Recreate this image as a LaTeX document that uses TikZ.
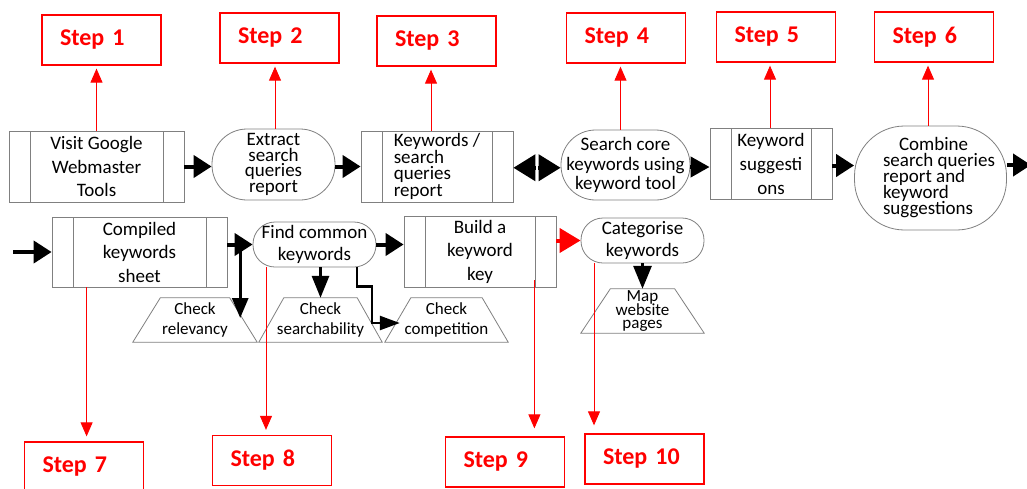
\documentclass[tikz,border=0pt]{standalone}
\usepackage{fontspec}
\setmainfont{Carlito}
\usetikzlibrary{arrows.meta}
\definecolor{bgray}{HTML}{808080}
\definecolor{sred}{HTML}{FF0000}
\lineskiplimit=-100pt
\tikzset{
  boxline/.style={draw=bgray, line width=0.8pt},
  proc/.style={boxline, rectangle, inner sep=0pt, align=center,
    font=\fontsize{19}{23.5}\selectfont,
    path picture={\draw[bgray, line width=0.8pt]
      ([xshift=21pt]path picture bounding box.north west) -- ([xshift=21pt]path picture bounding box.south west)
      ([xshift=-21pt]path picture bounding box.north east) -- ([xshift=-21pt]path picture bounding box.south east);}},
  term/.style={boxline, rectangle, rounded corners=#1, inner sep=0pt, align=center, font=\fontsize{19}{22}\selectfont},
  traptext/.style={inner sep=0pt, align=center, font=\fontsize{17}{20}\selectfont},
  stepbox/.style={draw=sred, line width=1.3pt, minimum width=119pt, minimum height=50pt,
    inner xsep=18pt, inner ysep=0pt, text width=83pt, align=left, text=sred,
    font=\fontsize{24}{28}\selectfont\bfseries},
  redarr/.style={draw=sred, line width=0.9pt, -{Triangle[length=14pt,width=12pt]}},
  bigarr/.style={draw=black, line width=4pt, -{Triangle[length=18pt,width=22pt]}},
  midarr/.style={draw=black, line width=3pt, -{Triangle[length=22pt,width=17pt]}},
  elbarr/.style={draw=black, line width=2.5pt, -{Triangle[length=20pt,width=14pt]}},
  redbig/.style={draw=sred, line width=4pt, -{Triangle[length=21pt,width=24pt]}},
}
\newcommand\trapnode[8][]{%
  \node[traptext, #1, minimum width=#5pt, minimum height=#7pt] (#2) at (#3,#4) {#8};
  \draw[boxline] (#2.south west) -- (#2.south east) -- ([xshift={-(#5-#6)/2}]#2.north east)
    -- ([xshift={(#5-#6)/2}]#2.north west) -- cycle;}
\begin{document}
\begin{tikzpicture}[x=1pt,y=-1pt]
\clip (0,0) rectangle (1027,488);
\fill[white] (0,0) rectangle (1027,488);
% top row
\node[proc, minimum width=175pt, minimum height=71pt] (v1) at (96.5,166.5) {Visit Google\\Webmaster\\Tools};
\node[term=35pt, minimum width=123pt, minimum height=71pt, font=\fontsize{19}{15.5}\selectfont] (e2) at (273.5,164.5) {Extract\\search\\queries\\report};
\node[proc, minimum width=152pt, minimum height=71pt, align=left, font=\fontsize{19}{16.5}\selectfont] (k3) at (437,166.5) {Keywords /\\search\\queries\\report};
\node[term=34.5pt, minimum width=129pt, minimum height=70pt, font=\fontsize{19}{19.5}\selectfont] (s4) at (625.5,165) {Search core\\keywords using\\keyword tool};
\node[proc, minimum width=122pt, minimum height=71pt, font=\fontsize{19}{24}\selectfont] (k5) at (771,163.5) {Keyword\\suggesti\\ons};
\node[term=50pt, minimum width=152pt, minimum height=104pt, align=left, font=\fontsize{19}{16}\selectfont] (c6) at (930.5,178) {\hspace*{33pt}Combine\\\hspace*{17pt}search queries\\\hspace*{17pt}report and\\\hspace*{17pt}keyword\\\hspace*{17pt}suggestions};
% bottom row
\node[proc, minimum width=175pt, minimum height=70pt] (cks) at (139.5,252) {Compiled\\keywords\\sheet};
\node[term=22pt, minimum width=123pt, minimum height=45pt] (fck) at (314.5,244.5) {Find common\\keywords};
\node[proc, minimum width=152pt, minimum height=71pt] (bkk) at (480,251.5) {Build a\\keyword\\key};
\node[term=22pt, minimum width=123pt, minimum height=45pt] (cat) at (642.5,240.5) {Categorise\\keywords};
\trapnode{rel}{195}{320}{124}{69}{44}{Check\\relevancy}
\trapnode{sea}{320.5}{320}{123}{73}{44}{Check\\searchability}
\trapnode{com}{446.5}{320}{123}{71}{44}{Check\\competition}
\trapnode[font=\fontsize{17}{13.5}\selectfont]{map}{642.5}{311}{123}{64}{44}{Map\\website\\pages}
% step boxes
\node[stepbox] (st1) at (101.5,40) {Step 1};
\node[stepbox] (st2) at (279.5,38) {Step 2};
\node[stepbox] (st3) at (436.5,41) {Step 3};
\node[stepbox] (st4) at (626,38) {Step 4};
\node[stepbox] (st5) at (776,37) {Step 5};
\node[stepbox] (st6) at (934,37) {Step 6};
\node[stepbox] (st7) at (84,467) {Step 7};
\node[stepbox] (st8) at (272,460.5) {Step 8};
\node[stepbox] (st9) at (505,462) {Step 9};
\node[stepbox] (st10) at (644.5,459) {Step 10};
% coordinates
\coordinate (inl) at (13,252);
\coordinate (offr) at (1031,165);
\path (k3.east) -- (s4.west) coordinate[pos=0.5] (dm);
\coordinate (relR) at ([xshift=-17pt,yshift=2pt]rel.east);
\coordinate (comL) at ([xshift=15pt,yshift=-3pt]com.west);
\coordinate (c7) at ([xshift=35pt]cks.south west);
\coordinate (c8) at ([xshift=-48.5pt]fck.south);
\coordinate (c9) at ([xshift=-22pt,yshift=7pt]bkk.south east);
\coordinate (c10) at ([xshift=-48.5pt]cat.south);
% black flow arrows
\draw[bigarr] (v1.east) -- (v1.east -| e2.west);
\draw[bigarr] (k3.west -| e2.east) -- (k3.west);
\draw[draw=black, line width=4pt, -{Triangle[length=22pt,width=26pt]}] ([xshift=-1.2pt,yshift=-2pt]dm) -- ([yshift=-2pt]dm -| k3.east);
\draw[draw=black, line width=4pt, -{Triangle[length=22pt,width=26pt]}] ([xshift=1.2pt,yshift=-2pt]dm) -- ([yshift=-2pt]dm -| s4.west);
\draw[draw=black, line width=4pt, -{Triangle[length=19pt,width=20pt]}] ([yshift=-2pt]s4.east) -- ([yshift=-2pt]s4.east -| k5.west);
\draw[bigarr] ([yshift=-2pt]k5.east) -- ([yshift=-2pt]k5.east -| c6.west);
\draw[bigarr] (offr -| c6.east) -- (offr);
\draw[bigarr] (inl) -- (cks.west);
\draw[bigarr] (cks.east |- fck.west) -- (fck.west);
\draw[midarr, -{Triangle[length=20pt,width=16pt]}] (relR |- fck.west) -- (relR);
\draw[bigarr] (fck.east) -- (fck.east -| bkk.west);
\draw[midarr] (sea.north |- fck.south) -- (sea.north);
\draw[elbarr] ([xshift=42.5pt]fck.south) -- ++(0,19) -- ++(15,0) |- (comL);
\draw[redbig] (bkk.east |- cat.west) -- (cat.west);
\draw[midarr, -{Triangle[length=23pt,width=18pt]}] (cat.south) -- (map.north);
% red step arrows
\draw[redarr, shorten >=3pt] (v1.north) -- (v1.north |- st1.south);
\draw[redarr, shorten >=3pt] ([xshift=1.5pt]e2.north) -- ([xshift=1.5pt]e2.north |- st2.south);
\draw[redarr, shorten >=3pt] ([xshift=-6pt]k3.north) -- ([xshift=-6pt]k3.north |- st3.south);
\draw[redarr, shorten >=3pt] ([xshift=-5pt]s4.north) -- ([xshift=-5pt]s4.north |- st4.south);
\draw[redarr, shorten >=3pt] ([xshift=-1pt]k5.north) -- ([xshift=-1pt]k5.north |- st5.south);
\draw[redarr, shorten >=3pt] ([xshift=-2.5pt]c6.north) -- ([xshift=-2.5pt]c6.north |- st6.south);
\draw[redarr, shorten >=5pt] (c7) -- (c7 |- st7.north);
\draw[redarr, shorten >=5pt] (c8) -- (c8 |- st8.north);
\draw[redarr, shorten >=8pt] (c9) -- (c9 |- st9.north);
\draw[redarr, shorten >=8pt] (c10) -- (c10 |- st10.north);
\end{tikzpicture}
\end{document}
